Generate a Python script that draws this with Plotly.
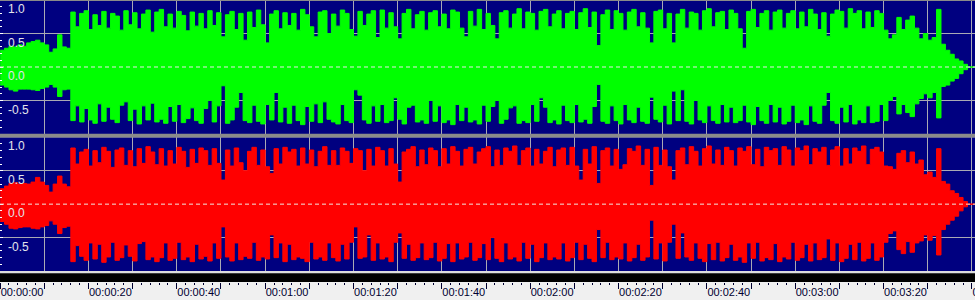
import plotly.graph_objects as go

# Peak envelope per second (seconds 0..221), left (green) and right (red) channels
left_top = [
    0.25, 0.28, 0.31, 0.30, 0.33, 0.31, 0.36, 0.38, 0.40, 0.36, 0.33, 0.22, 0.27, 0.48, 0.30, 0.28,
    0.82, 0.60, 0.80, 0.84, 0.56, 0.78, 0.62, 0.83, 0.58, 0.80,
    0.76, 0.55, 0.84, 0.63, 0.81, 0.57, 0.79, 0.85, 0.52, 0.82,
    0.86, 0.60, 0.79, 0.58, 0.83, 0.77, 0.54, 0.82, 0.61, 0.80,
    0.57, 0.84, 0.62, 0.81, 0.45, 0.78, 0.83, 0.56, 0.80, 0.40,
    0.82, 0.59, 0.85, 0.63, 0.36, 0.79, 0.84, 0.57, 0.81, 0.62,
    0.80, 0.55, 0.86, 0.78, 0.60, 0.45, 0.82, 0.84, 0.50, 0.79,
    0.61, 0.85, 0.80, 0.56, 0.46, 0.83, 0.62, 0.79, 0.84, 0.44,
    0.85, 0.58, 0.81, 0.60, 0.42, 0.80, 0.86, 0.57, 0.78, 0.83,
    0.55, 0.81, 0.84, 0.60, 0.79, 0.57, 0.85, 0.82, 0.58, 0.45,
    0.83, 0.61, 0.86, 0.56, 0.80, 0.62, 0.42, 0.81, 0.84, 0.58,
    0.79, 0.87, 0.57, 0.82, 0.80, 0.55, 0.83, 0.86, 0.60, 0.79,
    0.84, 0.57, 0.80, 0.83, 0.56, 0.81, 0.87, 0.59, 0.82, 0.32,
    0.78, 0.85, 0.56, 0.84, 0.80, 0.55, 0.82, 0.86, 0.60, 0.81,
    0.58, 0.36, 0.83, 0.85, 0.57, 0.80, 0.36, 0.79, 0.86, 0.58,
    0.82, 0.80, 0.55, 0.84, 0.87, 0.60, 0.81, 0.83, 0.56, 0.85,
    0.80, 0.57, 0.28, 0.83, 0.86, 0.59, 0.80, 0.84, 0.55, 0.82,
    0.85, 0.58, 0.80, 0.84, 0.57, 0.82, 0.60, 0.86, 0.79, 0.56,
    0.81, 0.46, 0.79, 0.85, 0.83, 0.58, 0.87, 0.80, 0.84, 0.57,
    0.82, 0.59, 0.84, 0.80, 0.55, 0.42, 0.48, 0.74, 0.56, 0.70,
    0.76, 0.58, 0.42, 0.50, 0.40, 0.44, 0.86, 0.34, 0.25, 0.19,
    0.12, 0.09, 0.04, 0.0, 0.0, 0.0,
]
left_bottom = [
    -0.27, -0.30, -0.34, -0.36, -0.33, -0.33, -0.33, -0.34, -0.35, -0.32, -0.30, -0.26, -0.30, -0.44, -0.34, -0.33,
    -0.80, -0.58, -0.82, -0.62, -0.79, -0.84, -0.55, -0.81, -0.60, -0.78,
    -0.83, -0.57, -0.52, -0.80, -0.63, -0.85, -0.58, -0.79, -0.54, -0.82,
    -0.78, -0.84, -0.59, -0.81, -0.56, -0.83, -0.77, -0.61, -0.80, -0.84,
    -0.62, -0.50, -0.82, -0.58, -0.28, -0.84, -0.79, -0.60, -0.38, -0.80,
    -0.83, -0.57, -0.81, -0.85, -0.56, -0.79, -0.38, -0.82, -0.60, -0.84,
    -0.57, -0.80, -0.86, -0.59, -0.81, -0.55, -0.83, -0.52, -0.78, -0.82,
    -0.85, -0.56, -0.80, -0.83, -0.34, -0.42, -0.79, -0.84, -0.58, -0.81,
    -0.56, -0.83, -0.80, -0.46, -0.78, -0.85, -0.60, -0.57, -0.82, -0.79,
    -0.84, -0.50, -0.81, -0.58, -0.83, -0.79, -0.86, -0.56, -0.80, -0.60,
    -0.82, -0.79, -0.85, -0.57, -0.81, -0.59, -0.50, -0.84, -0.78, -0.61,
    -0.58, -0.84, -0.80, -0.83, -0.56, -0.81, -0.46, -0.60, -0.83, -0.79,
    -0.85, -0.57, -0.80, -0.83, -0.56, -0.82, -0.78, -0.84, -0.59, -0.26,
    -0.81, -0.84, -0.58, -0.80, -0.85, -0.56, -0.79, -0.83, -0.60, -0.81,
    -0.84, -0.45, -0.78, -0.82, -0.57, -0.85, -0.36, -0.80, -0.34, -0.81,
    -0.85, -0.50, -0.79, -0.83, -0.58, -0.80, -0.84, -0.56, -0.82, -0.60,
    -0.83, -0.80, -0.57, -0.82, -0.86, -0.59, -0.80, -0.84, -0.56, -0.82,
    -0.60, -0.85, -0.81, -0.57, -0.83, -0.79, -0.86, -0.58, -0.81, -0.84,
    -0.57, -0.38, -0.80, -0.84, -0.60, -0.82, -0.56, -0.85, -0.79, -0.83,
    -0.58, -0.83, -0.81, -0.56, -0.80, -0.50, -0.44, -0.70, -0.56, -0.68,
    -0.74, -0.55, -0.47, -0.40, -0.46, -0.38, -0.76, -0.29, -0.27, -0.21,
    -0.17, -0.10, -0.04, 0.0, 0.0, 0.0,
]
right_top = [
    0.23, 0.27, 0.31, 0.32, 0.30, 0.31, 0.30, 0.33, 0.40, 0.33, 0.28, 0.18, 0.30, 0.42, 0.30, 0.26,
    0.84, 0.60, 0.78, 0.82, 0.57, 0.80, 0.62, 0.85, 0.79, 0.55,
    0.81, 0.84, 0.58, 0.80, 0.56, 0.83, 0.61, 0.86, 0.78, 0.59,
    0.83, 0.57, 0.80, 0.60, 0.85, 0.79, 0.55, 0.82, 0.61, 0.84,
    0.80, 0.58, 0.83, 0.61, 0.36, 0.81, 0.57, 0.84, 0.62, 0.50,
    0.79, 0.85, 0.58, 0.81, 0.56, 0.46, 0.83, 0.60, 0.85, 0.78,
    0.82, 0.57, 0.84, 0.60, 0.81, 0.56, 0.79, 0.86, 0.58, 0.80,
    0.58, 0.84, 0.79, 0.61, 0.83, 0.80, 0.50, 0.82, 0.57, 0.85,
    0.80, 0.57, 0.83, 0.60, 0.33, 0.78, 0.82, 0.86, 0.56, 0.81,
    0.59, 0.84, 0.80, 0.56, 0.83, 0.60, 0.86, 0.79, 0.57, 0.82,
    0.85, 0.60, 0.78, 0.83, 0.86, 0.56, 0.81, 0.58, 0.84, 0.79,
    0.87, 0.58, 0.80, 0.84, 0.57, 0.82, 0.60, 0.79, 0.85, 0.56,
    0.81, 0.84, 0.58, 0.85, 0.57, 0.36, 0.82, 0.60, 0.86, 0.31,
    0.80, 0.84, 0.57, 0.82, 0.52, 0.59, 0.83, 0.79, 0.87, 0.58,
    0.82, 0.28, 0.85, 0.58, 0.81, 0.56, 0.36, 0.80, 0.84, 0.59,
    0.86, 0.79, 0.57, 0.83, 0.87, 0.60, 0.81, 0.58, 0.85, 0.80,
    0.57, 0.84, 0.79, 0.86, 0.59, 0.82, 0.56, 0.85, 0.80, 0.83,
    0.58, 0.86, 0.81, 0.57, 0.84, 0.80, 0.87, 0.59, 0.83, 0.78,
    0.85, 0.58, 0.81, 0.86, 0.57, 0.83, 0.60, 0.84, 0.79, 0.87,
    0.59, 0.82, 0.85, 0.78, 0.57, 0.56, 0.52, 0.76, 0.80, 0.62,
    0.78, 0.60, 0.66, 0.44, 0.48, 0.40, 0.83, 0.34, 0.30, 0.20,
    0.16, 0.10, 0.04, 0.0, 0.0, 0.0,
]
right_bottom = [
    -0.26, -0.30, -0.36, -0.37, -0.35, -0.34, -0.34, -0.36, -0.37, -0.34, -0.32, -0.25, -0.30, -0.44, -0.35, -0.33,
    -0.86, -0.62, -0.78, -0.84, -0.58, -0.82, -0.60, -0.87, -0.79, -0.57,
    -0.84, -0.80, -0.61, -0.78, -0.85, -0.59, -0.56, -0.83, -0.79, -0.86,
    -0.80, -0.58, -0.84, -0.81, -0.57, -0.83, -0.79, -0.86, -0.60, -0.82,
    -0.78, -0.85, -0.58, -0.81, -0.34, -0.79, -0.85, -0.58, -0.83, -0.78,
    -0.81, -0.57, -0.84, -0.79, -0.82, -0.46, -0.80, -0.58, -0.86, -0.60,
    -0.83, -0.79, -0.81, -0.86, -0.57, -0.82, -0.79, -0.84, -0.58, -0.80,
    -0.85, -0.60, -0.82, -0.57, -0.34, -0.81, -0.79, -0.46, -0.84, -0.58,
    -0.82, -0.79, -0.86, -0.57, -0.43, -0.81, -0.60, -0.84, -0.80, -0.58,
    -0.83, -0.80, -0.57, -0.85, -0.81, -0.59, -0.86, -0.58, -0.82, -0.79,
    -0.57, -0.84, -0.80, -0.59, -0.83, -0.50, -0.81, -0.86, -0.58, -0.82,
    -0.79, -0.85, -0.57, -0.81, -0.60, -0.86, -0.80, -0.58, -0.83, -0.79,
    -0.82, -0.58, -0.85, -0.80, -0.57, -0.83, -0.60, -0.81, -0.86, -0.38,
    -0.80, -0.57, -0.83, -0.79, -0.82, -0.58, -0.85, -0.80, -0.60, -0.84,
    -0.79, -0.24, -0.82, -0.58, -0.85, -0.57, -0.30, -0.81, -0.43, -0.79,
    -0.84, -0.58, -0.81, -0.86, -0.59, -0.83, -0.57, -0.85, -0.80, -0.60,
    -0.84, -0.79, -0.87, -0.58, -0.81, -0.57, -0.85, -0.80, -0.83, -0.59,
    -0.86, -0.79, -0.82, -0.57, -0.84, -0.80, -0.60, -0.85, -0.58, -0.83,
    -0.80, -0.52, -0.84, -0.58, -0.86, -0.81, -0.60, -0.83, -0.57, -0.85,
    -0.81, -0.58, -0.84, -0.79, -0.57, -0.44, -0.40, -0.68, -0.74, -0.56,
    -0.72, -0.58, -0.55, -0.46, -0.54, -0.47, -0.76, -0.38, -0.30, -0.24,
    -0.18, -0.10, -0.04, 0.0, 0.0, 0.0,
]
seconds = list(range(len(left_top)))
assert len(left_bottom) == len(seconds) == len(right_top) == len(right_bottom), (
    len(left_top), len(left_bottom), len(right_top), len(right_bottom))

time_ticks = list(range(0, 221, 10))
time_labels = [("00:%02d:%02d" % (s // 60, s % 60)) if s % 20 == 0 else "" for s in time_ticks]
amp_ticks = [1.0, 0.5, 0.0, -0.5]
amp_labels = ["1.0", "0.5", "0.0", "-0.5"]

NAVY = "#000080"
GRID = "#a9a9b4"
H = 300.0
X_MIN = -0.03
X_MAX = 220.7

fig = go.Figure()
for top, bottom, color, yax in [(left_top, left_bottom, "#00ff00", "y"),
                                (right_top, right_bottom, "#ff0000", "y2")]:
    fig.add_trace(go.Scatter(
        x=seconds, y=bottom, mode="lines", line=dict(color=color, width=1, shape="hv"),
        xaxis="x", yaxis=yax, hoverinfo="skip", showlegend=False))
    fig.add_trace(go.Scatter(
        x=seconds, y=top, mode="lines", line=dict(color=color, width=1, shape="hv"),
        fill="tonexty", fillcolor=color,
        xaxis="x", yaxis=yax, hoverinfo="skip", showlegend=False))

yfont = dict(family="Liberation Sans, Arial, sans-serif", size=12, color="#e4e4ec")
common_y = dict(
    range=[-1, 1], tickmode="array", tickvals=amp_ticks, ticktext=amp_labels,
    ticklabelposition="inside bottom", ticklabelstandoff=5, ticklabeloverflow="allow",
    ticks="inside", ticklen=3, tickcolor="#ffffff", automargin=False,
    tickfont=yfont, showgrid=True, gridcolor=GRID, gridwidth=1, zeroline=False,
    showline=False, fixedrange=True,
    minor=dict(tickmode="linear", tick0=0, dtick=0.1, ticks="inside", ticklen=2,
               tickcolor="#ffffff", showgrid=False),
)

fig.update_layout(
    width=975, height=300, margin=dict(l=0, r=0, t=0, b=0, autoexpand=False),
    paper_bgcolor="#f0f0f0", plot_bgcolor=NAVY,
    xaxis=dict(
        domain=[0, 1], range=[X_MIN, X_MAX], anchor="free", position=1 - 282 / H,
        tickmode="array", tickvals=time_ticks, ticktext=time_labels,
        ticks="outside", ticklen=6, tickcolor="#000030", tickwidth=1,
        ticklabelposition="outside right", ticklabeloverflow="allow", automargin=False,
        tickfont=dict(family="Liberation Sans, Arial, sans-serif", size=11, color="#000030"),
        showgrid=True, gridcolor=GRID, gridwidth=1, zeroline=False, showline=False,
        fixedrange=True,
        minor=dict(tickmode="linear", tick0=0, dtick=2, ticks="outside", ticklen=2,
                   tickcolor="#000030", showgrid=False),
    ),
    yaxis=dict(domain=[1 - 134 / H, 1], anchor="x", **common_y),
    yaxis2=dict(domain=[1 - 271 / H, 1 - 137.3 / H], anchor="x", **common_y),
    shapes=[
        dict(type="rect", xref="paper", yref="paper", x0=0, x1=1,
             y0=1 - 137.4 / H, y1=1 - 133.8 / H, fillcolor="#8a8a8a", line=dict(width=0), layer="above"),
        dict(type="rect", xref="paper", yref="paper", x0=0, x1=1,
             y0=1 - 1 / H, y1=1, fillcolor="#8a8a8a", line=dict(width=0), layer="above"),
        dict(type="rect", xref="paper", yref="paper", x0=0, x1=1,
             y0=1 - 273 / H, y1=1 - 271 / H, fillcolor="#dcdcdc", line=dict(width=0), layer="above"),
        dict(type="rect", xref="paper", yref="paper", x0=0, x1=1,
             y0=1 - 282 / H, y1=1 - 273.2 / H, fillcolor="#000000", line=dict(width=0), layer="above"),
        dict(type="line", xref="x", yref="y", x0=X_MIN, x1=X_MAX, y0=0, y1=0,
             line=dict(color="#e8e8e8", width=1, dash="4px,3px"), layer="above"),
        dict(type="line", xref="x", yref="y2", x0=X_MIN, x1=X_MAX, y0=0, y1=0,
             line=dict(color="#f0e8e0", width=1, dash="4px,3px"), layer="above"),
    ],
)

fig.write_html("out.html")
